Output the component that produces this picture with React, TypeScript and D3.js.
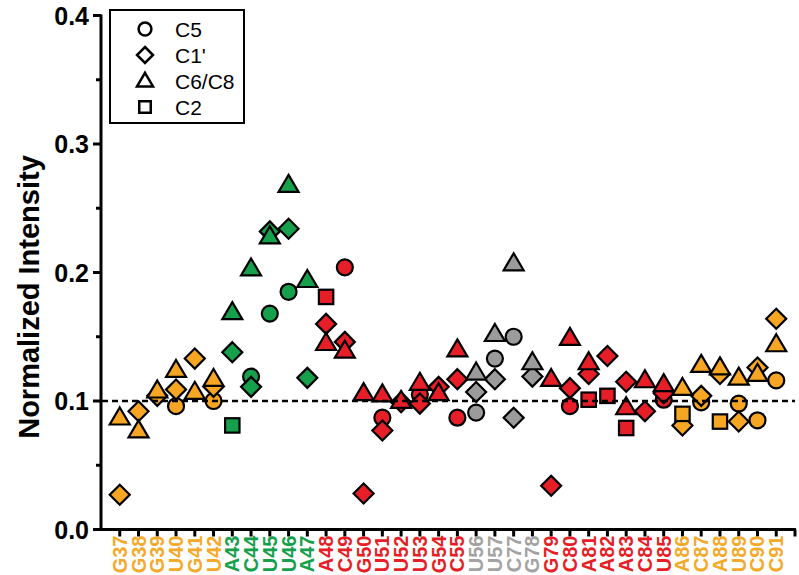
import React, { useEffect, useRef } from 'react';
import * as d3 from 'd3';

const categories = [
  'G37', 'G38', 'G39', 'U40', 'G41', 'U42', 'A43', 'C44', 'U45', 'U46', 'A47',
  'A48', 'C49', 'G50', 'U51', 'U52', 'U53', 'G54', 'C55', 'U56', 'U57', 'C77',
  'G78', 'G79', 'C80', 'A81', 'A82', 'A83', 'C84', 'U85', 'A86', 'C87', 'A88',
  'U89', 'C90', 'C91'
];

// region of each residue: o = orange, g = green, r = red, k = gray
const groups = [
  'o', 'o', 'o', 'o', 'o', 'o', 'g', 'g', 'g', 'g', 'g',
  'r', 'r', 'r', 'r', 'r', 'r', 'r', 'r', 'k', 'k', 'k',
  'k', 'r', 'r', 'r', 'r', 'r', 'r', 'r', 'o', 'o', 'o',
  'o', 'o', 'o'
];

type V = number | null;

const c5: V[] = [
  null, null, null, 0.096, null, 0.100, null, 0.119, 0.168, 0.185, null,
  null, 0.204, null, 0.087, null, 0.105, null, 0.087, 0.091, 0.133, 0.150,
  null, null, 0.096, null, null, null, null, 0.101, null, 0.099, null,
  0.098, 0.085, 0.116
];

const c1p: V[] = [
  0.027, 0.092, 0.104, 0.109, 0.133, 0.111, 0.138, 0.111, 0.232, 0.234, 0.118,
  0.160, 0.146, 0.028, 0.077, 0.099, 0.098, 0.111, 0.117, 0.107, 0.117, 0.087,
  0.119, 0.034, 0.110, 0.121, 0.135, 0.115, 0.092, 0.106, 0.081, 0.104, 0.121,
  0.084, 0.126, 0.164
];

const c6c8: V[] = [
  0.087, 0.077, 0.108, 0.124, 0.107, 0.117, 0.169, 0.203, 0.228, 0.268, 0.194,
  0.145, 0.139, 0.106, 0.105, 0.100, 0.114, 0.106, 0.140, 0.122, 0.152, 0.207,
  0.130, 0.117, 0.149, 0.130, null, 0.095, 0.116, 0.113, 0.110, 0.128, 0.126,
  0.118, 0.121, 0.144
];

const c2: V[] = [
  null, null, null, null, null, null, 0.081, null, null, null, null,
  0.181, null, null, null, null, null, null, null, null, null, null,
  null, null, null, 0.101, 0.104, 0.079, null, null, 0.090, null, 0.084,
  null, null, null
];

const yTicks = [0, 0.1, 0.2, 0.3, 0.4];
const yMinorTicks = [0.05, 0.15, 0.25, 0.35];
const legendItems = ['C5', "C1'", 'C6/C8', 'C2'];

const fillColors: Record<string, string> = { o: '#F6A623', g: '#16A04C', r: '#E51E27', k: '#9B9B9B' };
const labelColors: Record<string, string> = { o: '#F4A92A', g: '#16A04C', r: '#E51E27', k: '#A3A3A3' };

const W = 799;
const H = 575;

type Shape = 'circle' | 'diamond' | 'triangle' | 'square';

function drawMarker(
  g: d3.Selection<SVGGElement, unknown, null, undefined>,
  shape: Shape, cx: number, cy: number, s: number, fill: string, sw: number
) {
  let sel;
  if (shape === 'circle') {
    sel = g.append('circle').attr('cx', cx).attr('cy', cy).attr('r', s * 0.8);
  } else if (shape === 'square') {
    sel = g.append('rect').attr('x', cx - s * 0.72).attr('y', cy - s * 0.72)
      .attr('width', s * 1.44).attr('height', s * 1.44);
  } else if (shape === 'diamond') {
    const d = s;
    sel = g.append('path').attr('d', `M${cx},${cy - d}L${cx + d},${cy}L${cx},${cy + d}L${cx - d},${cy}Z`);
  } else {
    const hw = s;
    const h = s * 1.7;
    sel = g.append('path').attr('d', `M${cx},${cy - h * 0.6}L${cx + hw},${cy + h * 0.4}L${cx - hw},${cy + h * 0.4}Z`);
  }
  sel.attr('fill', fill).attr('stroke', '#000').attr('stroke-width', sw).attr('stroke-linejoin', 'miter');
}

export default function App() {
  const ref = useRef<SVGSVGElement>(null);

  useEffect(() => {
    if (!ref.current) return;
    const svg = d3.select(ref.current);
    svg.selectAll('*').remove();

    const x = d3.scaleLinear().domain([-1, categories.length]).range([101, 795]);
    const y = d3.scaleLinear().domain([0, 0.4]).range([529.5, 15.5]);
    const font = 'Arial, "Liberation Sans", Helvetica, sans-serif';

    // axes
    svg.append('line').attr('x1', x(-1)).attr('x2', x(-1)).attr('y1', y(0.4) - 1).attr('y2', y(0) + 1.5)
      .attr('stroke', '#000').attr('stroke-width', 3);
    svg.append('line').attr('x1', x(-1) - 1.5).attr('x2', x(categories.length) + 1).attr('y1', y(0)).attr('y2', y(0))
      .attr('stroke', '#000').attr('stroke-width', 3);

    yTicks.forEach(t => {
      svg.append('line').attr('x1', x(-1) - 8).attr('x2', x(-1)).attr('y1', y(t)).attr('y2', y(t))
        .attr('stroke', '#000').attr('stroke-width', 3);
      svg.append('text').attr('x', 89).attr('y', y(t)).attr('dy', '0.36em')
        .attr('text-anchor', 'end').attr('font-family', font).attr('font-weight', 'bold')
        .attr('font-size', 25).text(t.toFixed(1));
    });
    yMinorTicks.forEach(t => {
      svg.append('line').attr('x1', x(-1) - 5).attr('x2', x(-1)).attr('y1', y(t)).attr('y2', y(t))
        .attr('stroke', '#000').attr('stroke-width', 3);
    });

    svg.append('text')
      .attr('transform', `translate(39,297) rotate(-90)`)
      .attr('text-anchor', 'middle').attr('font-family', font).attr('font-weight', 'bold')
      .attr('font-size', 29).text('Normalized Intensity');

    categories.forEach((c, i) => {
      svg.append('line').attr('x1', x(i)).attr('x2', x(i)).attr('y1', y(0)).attr('y2', y(0) + 7)
        .attr('stroke', '#000').attr('stroke-width', 3);
      svg.append('text')
        .attr('transform', `translate(${x(i) + 7},${y(0) + 6}) rotate(-90)`)
        .attr('text-anchor', 'end').attr('font-family', font).attr('font-weight', 'bold')
        .attr('font-size', 20).attr('fill', labelColors[groups[i]]).text(c);
    });
    svg.append('line').attr('x1', x(categories.length)).attr('x2', x(categories.length))
      .attr('y1', y(0)).attr('y2', y(0) + 7).attr('stroke', '#000').attr('stroke-width', 3);

    // markers
    const marks = svg.append('g');
    const series: [V[], Shape][] = [[c5, 'circle'], [c1p, 'diamond'], [c6c8, 'triangle'], [c2, 'square']];
    series.forEach(([vals, shape]) => {
      vals.forEach((v, i) => {
        if (v === null) return;
        drawMarker(marks, shape, x(i), y(v), 10, fillColors[groups[i]], 2.2);
      });
    });

    // reference line
    svg.append('line').attr('x1', x(-1) + 1).attr('x2', x(categories.length)).attr('y1', y(0.1)).attr('y2', y(0.1))
      .attr('stroke', '#000').attr('stroke-width', 2.5).attr('stroke-dasharray', '6,4');

    // legend
    const lg = svg.append('g');
    lg.append('rect').attr('x', 110).attr('y', 10).attr('width', 134).attr('height', 113)
      .attr('fill', '#fff').attr('stroke', '#000').attr('stroke-width', 2);
    const shapes: Shape[] = ['circle', 'diamond', 'triangle', 'square'];
    const rowY = d3.scalePoint<string>().domain(legendItems).range([29, 107]);
    legendItems.forEach((name, i) => {
      const ry = rowY(name) as number;
      drawMarker(lg, shapes[i], 145, ry, 8, '#fff', 2.5);
      lg.append('text').attr('x', 175).attr('y', ry).attr('dy', '0.36em')
        .attr('font-family', font).attr('font-size', 21).text(name);
    });
  }, []);

  return (
    <svg ref={ref} width={W} height={H}
      style={{ position: 'absolute', left: 0, top: 0, background: '#fff' }} />
  );
}
